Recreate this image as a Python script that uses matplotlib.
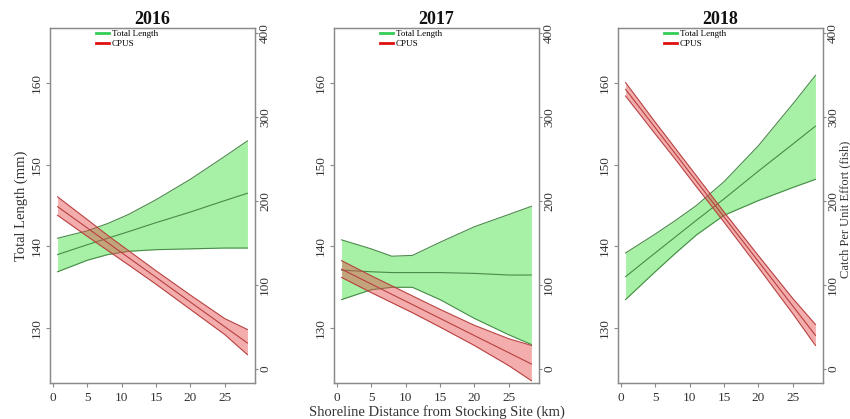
import numpy as np
import matplotlib
matplotlib.use('Agg')
import matplotlib.pyplot as plt
from matplotlib.lines import Line2D

plt.rcParams['font.family'] = ['Liberation Serif', 'DejaVu Serif']

#  Distance from stocking site (km), shared grid of read-off points
dist = [0.7, 5, 8, 11, 15, 20, 25, 28.3]
years = ['2016', '2017', '2018']

#  Total length (mm): fit and confidence band
tl_mean = {
    '2016': [139.0, 140.2, 141.0, 141.8, 142.9, 144.2, 145.6, 146.5],
    '2017': [137.1, 136.9, 136.8, 136.8, 136.8, 136.7, 136.5, 136.5],
    '2018': [136.3, 139.2, 141.2, 143.2, 145.8, 149.2, 152.5, 154.7],
}
tl_upper = {
    '2016': [141.0, 141.9, 142.8, 143.9, 145.7, 148.2, 151.0, 152.9],
    '2017': [140.8, 139.7, 138.8, 138.9, 140.5, 142.4, 143.9, 144.9],
    '2018': [139.2, 141.5, 143.2, 145.0, 147.9, 152.3, 157.4, 160.9],
}
tl_lower = {
    '2016': [136.9, 138.3, 139.0, 139.4, 139.6, 139.7, 139.8, 139.8],
    '2017': [133.5, 134.7, 135.0, 135.0, 133.5, 131.2, 129.2, 128.0],
    '2018': [133.5, 136.9, 139.2, 141.4, 143.8, 145.6, 147.2, 148.2],
}

#  Catch per unit effort (fish): fit and confidence band
cpue_mean = {
    '2016': [193.3, 168.0, 150.3, 132.7, 109.2, 79.7, 50.3, 30.9],
    '2017': [118.8, 101.2, 88.9, 76.7, 60.3, 39.8, 19.4, 5.9],
    '2018': [333.0, 287.4, 255.5, 223.6, 181.2, 128.2, 75.1, 40.0],
}
cpue_upper = {
    '2016': [205, 178, 159, 141, 117, 88, 60, 47],
    '2017': [129, 111, 99, 87, 71, 52, 36, 28],
    '2018': [341, 294, 262, 230, 187, 135, 84, 53],
}
cpue_lower = {
    '2016': [183, 158, 141, 124, 101, 71, 41, 17],
    '2017': [109, 91, 79, 67, 50, 28, 4, -14],
    '2018': [325, 280, 249, 217, 175, 121, 66, 28],
}

tl_ticks = [130, 140, 150, 160]
cpue_ticks = [0, 100, 200, 300, 400]
x_ticks = [0, 5, 10, 15, 20, 25]

axis_col = '#8a8a8a'
text_col = '#333333'
green_fill = '#90EE90'
green_line = '#4a8a4a'
red_fill = '#E84A4A'
red_line = '#B84040'

fig = plt.figure(figsize=(8.5, 4.19), dpi=100)

lefts = [50, 334, 618]
for i, yr in enumerate(years):
    ax = fig.add_axes([lefts[i] / 850, 36 / 419, 205 / 850, 355 / 419])
    ax2 = ax.twinx()

    ax.fill_between(dist, tl_lower[yr], tl_upper[yr], color=green_fill,
                    alpha=0.8, lw=0)
    for ser in (tl_lower, tl_upper, tl_mean):
        ax.plot(dist, ser[yr], color=green_line, lw=0.8)

    ax2.fill_between(dist, cpue_lower[yr], cpue_upper[yr], color=red_fill,
                     alpha=0.45, lw=0)
    for ser in (cpue_lower, cpue_upper, cpue_mean):
        ax2.plot(dist, ser[yr], color=red_line, lw=0.8)

    ax.set_xlim(-0.4, 29.4)
    ax.set_ylim(123.3, 166.7)
    ax2.set_ylim(-16.7, 406)
    ax.set_xticks(x_ticks)
    ax.set_yticks(tl_ticks)
    ax2.set_yticks(cpue_ticks)

    for a in (ax, ax2):
        for sp in a.spines.values():
            sp.set_color(axis_col)
            sp.set_linewidth(0.9)
        a.tick_params(colors=axis_col, labelcolor=text_col, labelsize=9.5,
                      length=3, width=0.8, direction='out')
    ax.tick_params(axis='y', pad=2)
    ax2.tick_params(axis='y', pad=0.5, length=2.5)
    for lab in ax.get_yticklabels() + ax2.get_yticklabels():
        lab.set_rotation(90)
        lab.set_va('center')

    ax.set_title(yr, fontsize=13, fontweight='bold', pad=1, color='#111111')

    handles = [Line2D([], [], color='#33CC55', lw=2),
               Line2D([], [], color='#E01010', lw=2)]
    ax2.legend(handles, ['Total Length', 'CPUS'], loc='upper left',
               bbox_to_anchor=(0.2, 1.01), frameon=False, fontsize=6.5,
               handlelength=1.4, handletextpad=0.3, labelspacing=0.15,
               borderpad=0.1)

    if i == 0:
        ax.set_ylabel('Total Length (mm)', fontsize=10.5, color=text_col,
                      labelpad=2)
    if i == 1:
        ax.set_xlabel('Shoreline Distance from Stocking Site (km)',
                      fontsize=10.5, color=text_col, labelpad=1)

fig.text(839.5 / 850, 0.5, 'Catch Per Unit Effort (fish)', rotation=90,
         ha='left', va='center', fontsize=9, color=text_col)

fig.savefig('out.png', dpi=100)
